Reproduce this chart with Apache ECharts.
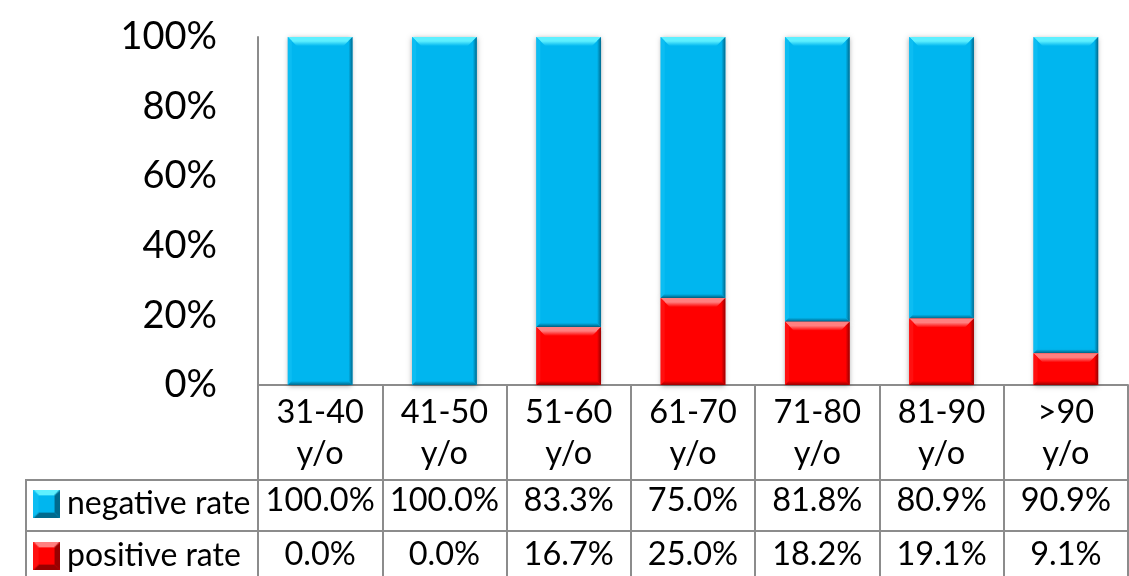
<!DOCTYPE html>
<html>
<head>
<meta charset="utf-8">
<script src="https://cdn.jsdelivr.net/npm/echarts@6/dist/echarts.min.js"></script>
<style>
  html, body { margin: 0; padding: 0; background: #fff; }
  #chart { width: 1129px; height: 576px; }
</style>
</head>
<body>
<div id="chart"></div>
<script>
// Age groups and test outcome rates (fractions of 1)
const categories = ['31-40\ny/o', '41-50\ny/o', '51-60\ny/o', '61-70\ny/o', '71-80\ny/o', '81-90\ny/o', '>90\ny/o'];
const negativeRate = [1.000, 1.000, 0.833, 0.750, 0.818, 0.809, 0.909];
const positiveRate = [0.000, 0.000, 0.167, 0.250, 0.182, 0.191, 0.091];
const yTicks = [0, 0.2, 0.4, 0.6, 0.8, 1.0];

const FONT = 'Lato, Carlito, "Noto Sans", sans-serif';
const GRID_LINE = '#8c8c8c';

const pct1 = v => (v * 100).toFixed(1) + '%';

const bluePalette = { main: '#00b6ef', top0: '#5ef0ff', top1: '#00b6ef', dark: '#006a8e', side: '#0cbdf2' };
const redPalette = { main: '#ff0000', top0: '#ff8080', top1: '#ff0000', dark: '#980000', side: '#ff1010' };

// Bevel faces of a box (wide soft top, narrow sides), as custom-series children
function bevelFaces(x, y, w, h, bt, bs, palette) {
  return [
    { type: 'polygon', shape: { points: [[x, y], [x + w, y], [x + w - bt, y + bt], [x + bt, y + bt]] },
      style: { fill: new echarts.graphic.LinearGradient(0, 0, 0, 1, [
        { offset: 0, color: palette.top0 }, { offset: 0.45, color: palette.top0 }, { offset: 1, color: palette.top1 }]) } },
    { type: 'polygon', shape: { points: [[x, y], [x, y + h], [x + bs, y + h - bs], [x + bs, y + bs]] },
      style: { fill: palette.side } },
    { type: 'polygon', shape: { points: [[x + w, y], [x + w, y + h], [x + w - bs, y + h - bs], [x + w - bs, y + bs]] },
      style: { fill: new echarts.graphic.LinearGradient(1, 0, 0, 0, [
        { offset: 0, color: palette.dark }, { offset: 1, color: palette.main }]) } },
    { type: 'polygon', shape: { points: [[x, y + h], [x + w, y + h], [x + w - bs, y + h - bs], [x + bs, y + h - bs]] },
      style: { fill: new echarts.graphic.LinearGradient(0, 1, 0, 0, [
        { offset: 0, color: palette.dark }, { offset: 1, color: palette.main }]) } }
  ];
}

// Bevelled bar drawn from [index, start, end] in data space
function bevelBar(palette) {
  return function (params, api) {
    const idx = api.value(0);
    const lo = api.coord([idx, api.value(1)]);
    const hi = api.coord([idx, api.value(2)]);
    const w = api.size([1, 0])[0] * 0.52;
    const x = lo[0] - w / 2;
    const y = hi[1];
    const h = lo[1] - hi[1];
    if (h <= 0.5) return null;
    const bt = Math.min(9, h / 3);
    const bs = Math.min(4, h / 3);
    return {
      type: 'group',
      children: [
        { type: 'rect', shape: { x: x, y: y, width: w, height: h },
          style: { fill: palette.main, shadowBlur: 5, shadowColor: 'rgba(0,0,0,0.35)', shadowOffsetX: 0, shadowOffsetY: 1 } }
      ].concat(bevelFaces(x, y, w, h, bt, bs, palette))
    };
  };
}

// Small bevelled square used as a legend key
function keyIcon(palette) {
  const c = document.createElement('canvas');
  c.width = 20; c.height = 21;
  const g = c.getContext('2d');
  const w = 20, h = 21, b = 4;
  g.fillStyle = palette.main; g.fillRect(0, 0, w, h);
  const face = (pts, col) => { g.beginPath(); g.moveTo(pts[0][0], pts[0][1]); pts.slice(1).forEach(p => g.lineTo(p[0], p[1])); g.closePath(); g.fillStyle = col; g.fill(); };
  face([[0, 0], [w, 0], [w - b, b], [b, b]], palette.top0);
  face([[w, 0], [w, h], [w - b, h - b], [w - b, b]], palette.dark);
  face([[0, h], [w, h], [w - b, h - b], [b, h - b]], palette.dark);
  face([[0, 0], [0, h], [b, h - b], [b, b]], palette.side);
  return 'image://' + c.toDataURL();
}

const positiveData = positiveRate.map((v, i) => [i, 0, v]);
const negativeData = negativeRate.map((v, i) => [i, positiveRate[i], positiveRate[i] + negativeRate[i]]);

const tableAxis = (values, offset, margin) => ({
  type: 'category',
  data: categories,
  position: 'bottom',
  offset: offset,
  gridIndex: 0,
  axisLine: { show: true, lineStyle: { color: GRID_LINE, width: 2 } },
  axisTick: { show: false },
  axisLabel: {
    interval: 0, margin: margin, color: '#000', fontFamily: FONT, fontSize: 32.5, lineHeight: 36,
    formatter: (val, idx) => pct1(values[idx])
  }
});

const legendRow = (name, top, palette) => ({
  left: 33,
  top: top,
  padding: 0,
  itemWidth: 27,
  itemHeight: 28,
  selectedMode: false,
  data: [{ name: name, icon: keyIcon(palette) }],
  textStyle: { color: '#000', fontFamily: FONT, fontSize: 32, lineHeight: 36, padding: [0, 0, 0, 2] }
});

const chart = echarts.init(document.getElementById('chart'), null, { renderer: 'canvas' });
chart.setOption({
  animation: false,
  backgroundColor: '#fff',
  grid: { left: 258, right: 1, top: 37, bottom: 191, outerBoundsMode: 'none', containLabel: false },
  legend: [legendRow('negative rate', 486, bluePalette), legendRow('positive rate', 538, redPalette)],
  xAxis: [
    {
      type: 'category',
      data: categories,
      axisLine: { show: true, lineStyle: { color: GRID_LINE, width: 2 } },
      axisTick: { show: true, interval: 0, length: 200, lineStyle: { color: GRID_LINE, width: 2 } },
      axisLabel: { interval: 0, margin: 7, color: '#000', fontFamily: FONT, fontSize: 32.5, lineHeight: 41 }
    },
    tableAxis(negativeRate, 95, 3),
    tableAxis(positiveRate, 146, 6)
  ],
  yAxis: {
    type: 'value',
    min: yTicks[0],
    max: yTicks[yTicks.length - 1],
    interval: 0.2,
    axisLine: { show: true, lineStyle: { color: GRID_LINE, width: 2 } },
    axisTick: { show: false },
    splitLine: { show: false },
    axisLabel: { margin: 41, color: '#000', fontFamily: FONT, fontSize: 38,
      formatter: v => Math.round(v * 100) + '%' }
  },
  graphic: [
    // legend column borders of the data table
    { type: 'line', shape: { x1: 26, y1: 480, x2: 258, y2: 480 }, style: { stroke: GRID_LINE, lineWidth: 2 } },
    { type: 'line', shape: { x1: 26, y1: 531, x2: 258, y2: 531 }, style: { stroke: GRID_LINE, lineWidth: 2 } },
    { type: 'line', shape: { x1: 26, y1: 479, x2: 26, y2: 576 }, style: { stroke: GRID_LINE, lineWidth: 2 } }
  ],
  series: [
    {
      name: 'positive rate',
      type: 'custom',
      renderItem: bevelBar(redPalette),
      itemStyle: { color: redPalette.main },
      encode: { x: 0, y: [1, 2] },
      data: positiveData,
      z: 3
    },
    {
      name: 'negative rate',
      type: 'custom',
      renderItem: bevelBar(bluePalette),
      itemStyle: { color: bluePalette.main },
      encode: { x: 0, y: [1, 2] },
      data: negativeData,
      z: 2
    }
  ]
});
</script>
</body>
</html>
